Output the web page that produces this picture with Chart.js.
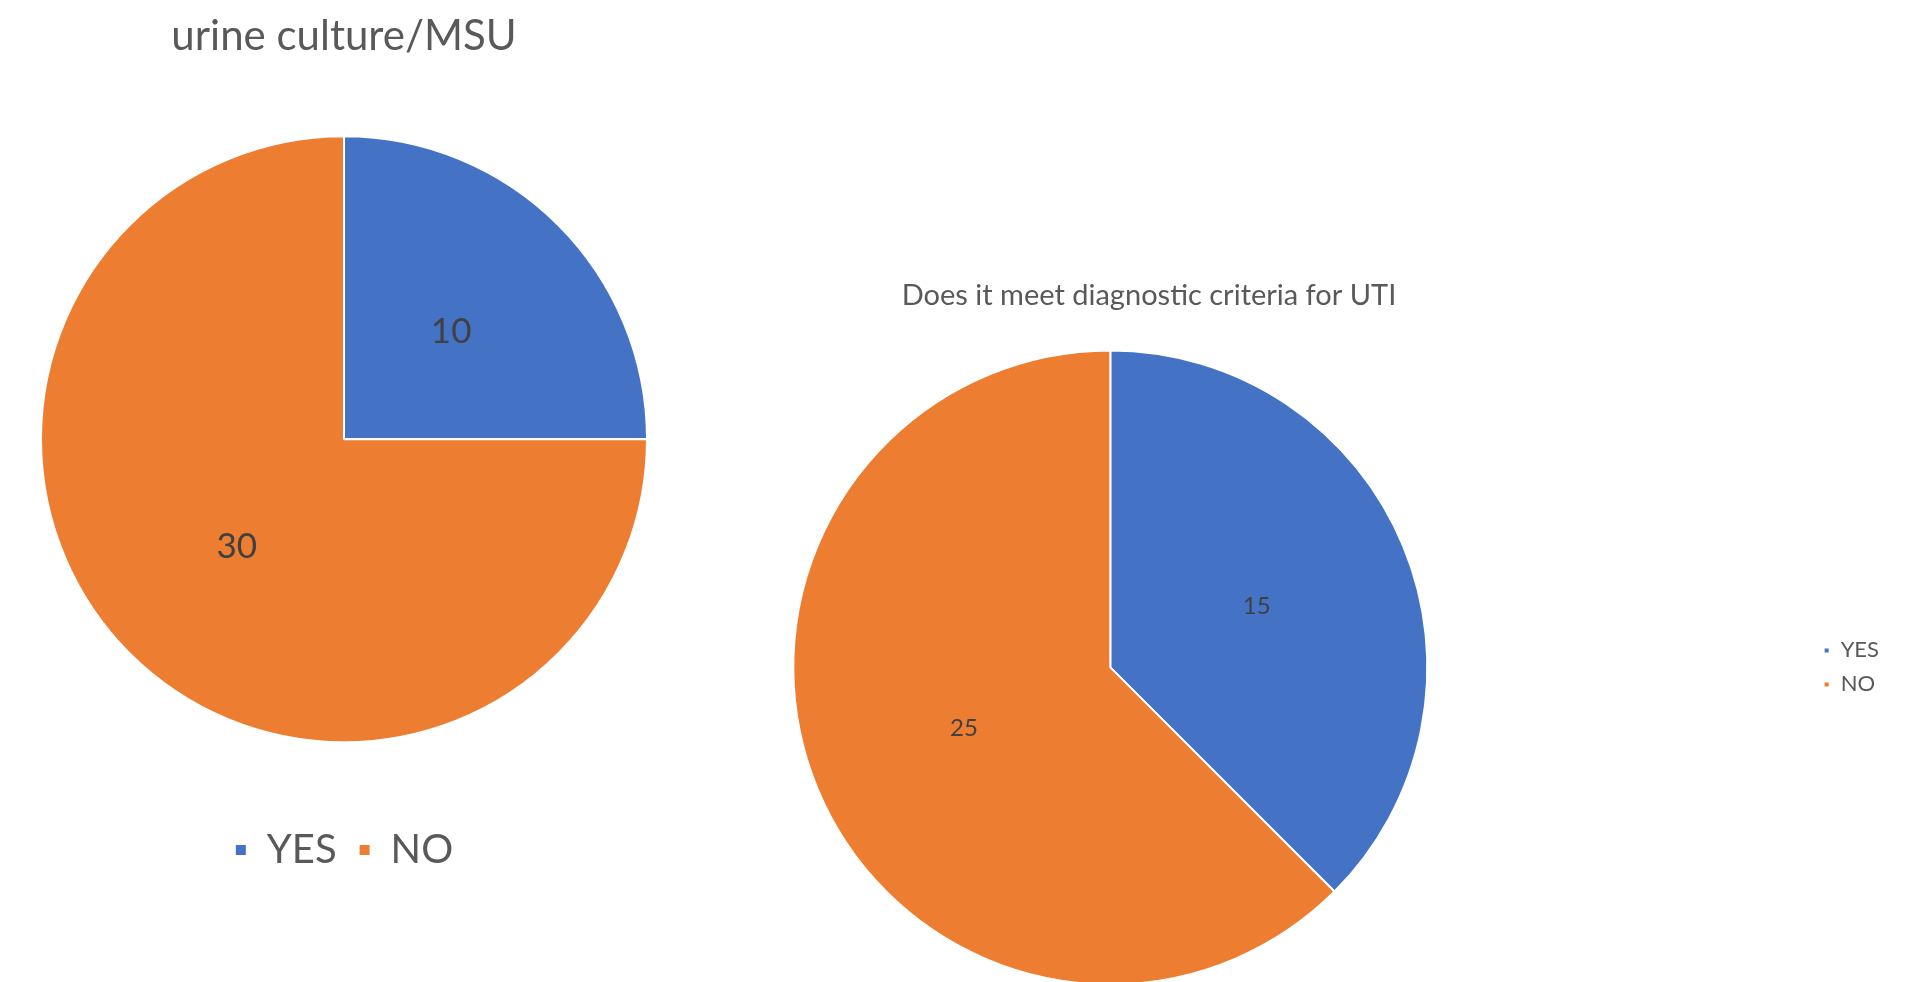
<!DOCTYPE html>
<html>
<head>
<meta charset="utf-8">
<script src="https://cdn.jsdelivr.net/npm/chart.js@4.4.0/dist/chart.umd.min.js"></script>
<style>
  html, body { margin: 0; padding: 0; background: #fff; width: 1914px; height: 982px; overflow: hidden; position: relative; }
  .box { position: absolute; }
</style>
</head>
<body>
<div class="box" style="left:0;top:0;width:688px;height:880px"><canvas id="pie-msu"></canvas></div>
<div class="box" style="left:409px;top:260px;width:1480px;height:742px"><canvas id="pie-uti"></canvas></div>
<script>
const categories = ['YES', 'NO'];
const msuValues = [10, 30];
const utiValues = [15, 25];
const sliceColors = ['#4472C4', '#ED7D31'];

Chart.defaults.font.family = 'Lato, "Open Sans", sans-serif';
Chart.defaults.color = '#595959';

// value labels in the middle of each slice
const sliceLabels = {
  id: 'sliceLabels',
  afterDatasetsDraw(chart, args, opts) {
    const ctx = chart.ctx;
    const meta = chart.getDatasetMeta(0);
    ctx.save();
    ctx.font = opts.size + 'px Lato';
    ctx.fillStyle = opts.color;
    ctx.textAlign = 'center';
    ctx.textBaseline = 'middle';
    meta.data.forEach((arc, i) => {
      const pos = arc.tooltipPosition();
      ctx.fillText(chart.data.datasets[0].data[i], pos.x, pos.y);
    });
    ctx.restore();
  }
};

new Chart(document.getElementById('pie-msu').getContext('2d'), {
  type: 'pie',
  data: {
    labels: categories,
    datasets: [{
      data: msuValues,
      backgroundColor: sliceColors,
      borderColor: '#ffffff',
      borderWidth: 2,
      radius: 303,
    }],
  },
  options: {
    responsive: true,
    maintainAspectRatio: false,
    animation: false,
    events: [],
    plugins: {
      title: {
        display: true,
        text: 'urine culture/MSU',
        font: { size: 42, weight: 'normal' },
        color: '#595959',
        padding: { top: 11, bottom: 9 },
      },
      legend: {
        position: 'bottom',
        labels: { boxWidth: 12, boxHeight: 12, padding: 22, font: { size: 40 }, color: '#595959' },
      },
      tooltip: { enabled: false },
      sliceLabels: { size: 35, color: '#404040' },
    },
  },
  plugins: [sliceLabels],
});

new Chart(document.getElementById('pie-uti').getContext('2d'), {
  type: 'pie',
  data: {
    labels: categories,
    datasets: [{
      data: utiValues,
      backgroundColor: sliceColors,
      borderColor: '#ffffff',
      borderWidth: 2,
      radius: 317,
    }],
  },
  options: {
    responsive: true,
    maintainAspectRatio: false,
    animation: false,
    events: [],
    plugins: {
      title: {
        display: true,
        text: 'Does it meet diagnostic criteria for UTI',
        font: { size: 29, weight: 'normal' },
        color: '#595959',
        padding: { top: 18, bottom: 20 },
      },
      legend: {
        position: 'right',
        fullSize: false,
        labels: { boxWidth: 6, boxHeight: 6, padding: 12, font: { size: 22 }, color: '#595959' },
      },
      tooltip: { enabled: false },
      sliceLabels: { size: 24, color: '#404040' },
    },
  },
  plugins: [sliceLabels],
});
</script>
</body>
</html>
